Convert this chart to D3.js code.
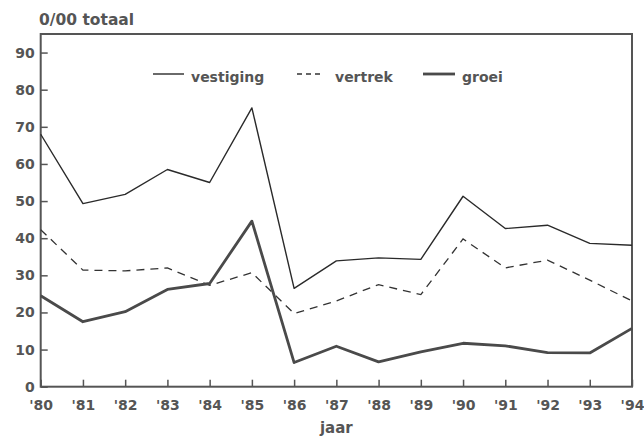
<!DOCTYPE html>
<html><head><meta charset="utf-8">
<script src="https://cdn.jsdelivr.net/npm/d3@7"></script>
<style>
html,body{margin:0;padding:0;background:#fff;}
svg{display:block;font-family:"DejaVu Sans",sans-serif;font-weight:bold;}
</style></head>
<body>
<svg id="chart" width="644" height="437"></svg>
<script>
const years = ["'80","'81","'82","'83","'84","'85","'86","'87","'88","'89","'90","'91","'92","'93","'94"];
const vestiging = [68.0,49.3,51.8,58.5,55.0,75.1,26.5,33.9,34.7,34.3,51.3,42.6,43.5,38.6,38.1];
const vertrek   = [42.3,31.4,31.2,32.0,27.3,30.7,19.7,23.1,27.5,24.8,39.8,32.0,34.1,28.7,23.1];
const groei     = [24.5,17.5,20.2,26.2,27.8,44.6,6.5,10.9,6.7,9.4,11.7,11.0,9.2,9.1,15.7];
const yTicks = [0,10,20,30,40,50,60,70,80,90];
const yTitle = "0/00 totaal";
const xTitle = "jaar";
const legendLabels = ["vestiging","vertrek","groei"];

const svg = d3.select("#chart");
const L = 40.7, R = 632, T = 34, B = 386.7;
const gray = "#555";
const x = d3.scalePoint().domain(years).range([L, R]);
const y = d3.scaleLinear().domain([0, 95]).range([B, T]);

// frame
svg.append("rect").attr("x", L).attr("y", T).attr("width", R - L).attr("height", B - T)
  .attr("fill", "none").attr("stroke", gray).attr("stroke-width", 2);

// y axis
const ya = svg.append("g").attr("transform", `translate(${L},0)`)
  .call(d3.axisRight(y).tickValues(yTicks).tickSize(7).tickFormat(d3.format("d")));
ya.select(".domain").remove();
ya.selectAll("line").attr("stroke", gray).attr("stroke-width", 1.5);
ya.selectAll("text").attr("x", -6).attr("text-anchor", "end")
  .attr("fill", gray).style("font-size", "14px").style("font-family", "DejaVu Sans").style("font-weight", "bold");

// x axis
const xa = svg.append("g").attr("transform", `translate(0,${B})`)
  .call(d3.axisTop(x).tickSize(7));
xa.select(".domain").remove();
xa.selectAll("line").attr("stroke", gray).attr("stroke-width", 1.5);
xa.selectAll("text").attr("y", 18).attr("dy", "0.35em")
  .attr("fill", gray).style("font-size", "14px").style("font-family", "DejaVu Sans").style("font-weight", "bold");

// titles
svg.append("text").attr("x", 39).attr("y", 25).text(yTitle)
  .attr("fill", gray).style("font-size", "15.5px");
svg.append("text").attr("x", (L + R) / 2).attr("y", 433).attr("text-anchor", "middle").text(xTitle)
  .attr("fill", gray).style("font-size", "15px");

const line = d3.line().x((d, i) => x(years[i])).y(d => y(d));

svg.append("path").datum(vertrek).attr("d", line).attr("fill", "none")
  .attr("stroke", "#333").attr("stroke-width", 1.3).attr("stroke-dasharray", "8,6");
svg.append("path").datum(vestiging).attr("d", line).attr("fill", "none")
  .attr("stroke", "#2a2a2a").attr("stroke-width", 1.4).attr("stroke-linejoin", "round");
svg.append("path").datum(groei).attr("d", line).attr("fill", "none")
  .attr("stroke", "#4a4a4a").attr("stroke-width", 2.8).attr("stroke-linejoin", "round");

// legend
const leg = [
  {x1: 153, x2: 184, tx: 191, dash: null, w: 1.4, c: "#2a2a2a"},
  {x1: 297, x2: 324, tx: 335, dash: "5,4", w: 1.3, c: "#333"},
  {x1: 423, x2: 455, tx: 462, dash: null, w: 2.8, c: "#4a4a4a"}
];
leg.forEach((l, i) => {
  svg.append("line").attr("x1", l.x1).attr("x2", l.x2).attr("y1", 74).attr("y2", 74)
    .attr("stroke", l.c).attr("stroke-width", l.w).attr("stroke-dasharray", l.dash);
  svg.append("text").attr("x", l.tx).attr("y", 77).attr("dy", "0.35em").text(legendLabels[i])
    .attr("fill", gray).style("font-size", "14px");
});
</script>
</body></html>
